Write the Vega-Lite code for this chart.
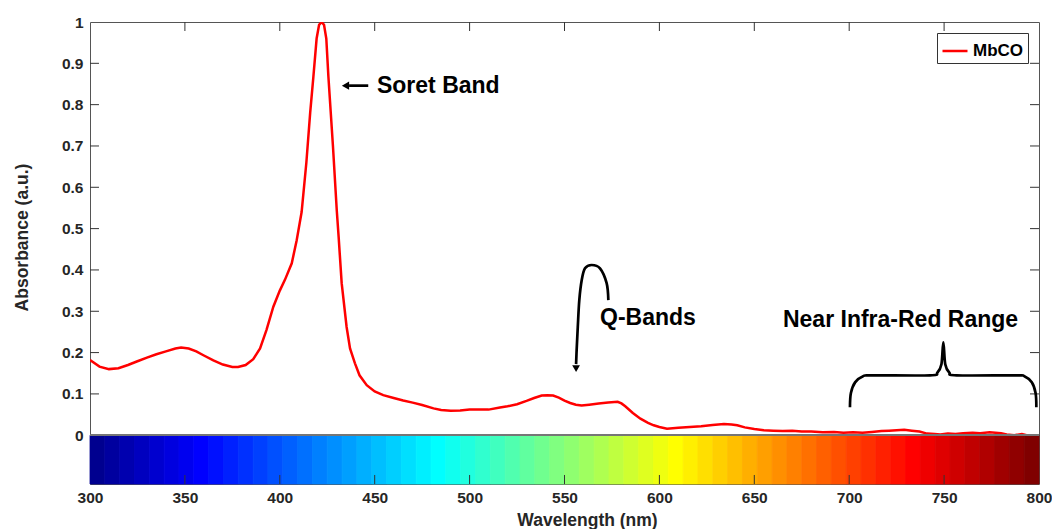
{
  "$schema": "https://vega.github.io/schema/vega-lite/v6.json",
  "width": 949,
  "height": 462,
  "autosize": {"type": "none"},
  "padding": {"left": 90, "top": 22, "right": 13, "bottom": 45},
  "background": "white",
  "config": {
    "font": "Liberation Sans",
    "view": {"stroke": "#555", "strokeWidth": 1},
    "axis": {
      "domain": false,
      "grid": false,
      "ticks": false,
      "zindex": 1,
      "labelFont": "Liberation Sans",
      "labelFontWeight": "bold",
      "labelFontSize": 15.5,
      "labelColor": "#262626",
      "titleFont": "Liberation Sans",
      "titleFontWeight": "bold",
      "titleFontSize": 17.5,
      "titleColor": "#262626"
    },
    "legend": {
      "orient": "top-right",
      "offset": 11,
      "strokeColor": "#333",
      "fillColor": "white",
      "padding": 4,
      "labelFont": "Liberation Sans",
      "labelFontWeight": "bold",
      "labelFontSize": 17,
      "labelColor": "black",
      "labelOffset": 4,
      "symbolType": "stroke",
      "symbolStrokeWidth": 2.5,
      "symbolSize": 625
    }
  },
  "datasets": {
    "spectrum": [
      {"nm": 300, "abs": 0.182}, {"nm": 305, "abs": 0.166}, {"nm": 310, "abs": 0.160}, {"nm": 315, "abs": 0.162},
      {"nm": 320, "abs": 0.170}, {"nm": 325, "abs": 0.179}, {"nm": 330, "abs": 0.188}, {"nm": 335, "abs": 0.196},
      {"nm": 340, "abs": 0.203}, {"nm": 345, "abs": 0.210}, {"nm": 348, "abs": 0.212}, {"nm": 352, "abs": 0.210},
      {"nm": 356, "abs": 0.203}, {"nm": 360, "abs": 0.193}, {"nm": 365, "abs": 0.181}, {"nm": 370, "abs": 0.171},
      {"nm": 375, "abs": 0.165}, {"nm": 378, "abs": 0.165}, {"nm": 382, "abs": 0.170}, {"nm": 386, "abs": 0.184},
      {"nm": 389.6, "abs": 0.210}, {"nm": 393, "abs": 0.255}, {"nm": 396.6, "abs": 0.311}, {"nm": 400, "abs": 0.350},
      {"nm": 402.7, "abs": 0.376}, {"nm": 406.3, "abs": 0.416}, {"nm": 408.9, "abs": 0.472}, {"nm": 411.5, "abs": 0.540},
      {"nm": 414, "abs": 0.660}, {"nm": 416, "abs": 0.780}, {"nm": 417.7, "abs": 0.868}, {"nm": 419.4, "abs": 0.960},
      {"nm": 420.7, "abs": 0.993}, {"nm": 422, "abs": 1.0}, {"nm": 423.3, "abs": 0.993}, {"nm": 424.5, "abs": 0.960},
      {"nm": 425.6, "abs": 0.868}, {"nm": 428, "abs": 0.700}, {"nm": 430, "abs": 0.545}, {"nm": 431, "abs": 0.480},
      {"nm": 432.6, "abs": 0.368}, {"nm": 435.2, "abs": 0.262}, {"nm": 437, "abs": 0.210}, {"nm": 439.6, "abs": 0.174},
      {"nm": 442, "abs": 0.145}, {"nm": 445.8, "abs": 0.121}, {"nm": 450, "abs": 0.106}, {"nm": 454.5, "abs": 0.097},
      {"nm": 460, "abs": 0.090}, {"nm": 465, "abs": 0.084}, {"nm": 470, "abs": 0.079}, {"nm": 475, "abs": 0.073},
      {"nm": 481, "abs": 0.065}, {"nm": 485, "abs": 0.061}, {"nm": 490, "abs": 0.059}, {"nm": 495, "abs": 0.060},
      {"nm": 500, "abs": 0.062}, {"nm": 505, "abs": 0.062}, {"nm": 510, "abs": 0.062}, {"nm": 516, "abs": 0.067},
      {"nm": 520, "abs": 0.070}, {"nm": 525, "abs": 0.075}, {"nm": 530, "abs": 0.083}, {"nm": 534, "abs": 0.090},
      {"nm": 538, "abs": 0.096}, {"nm": 541, "abs": 0.097}, {"nm": 544, "abs": 0.096}, {"nm": 547, "abs": 0.091},
      {"nm": 550, "abs": 0.084}, {"nm": 553, "abs": 0.078}, {"nm": 556, "abs": 0.074}, {"nm": 559, "abs": 0.072},
      {"nm": 563, "abs": 0.074}, {"nm": 568, "abs": 0.077}, {"nm": 573, "abs": 0.079}, {"nm": 578, "abs": 0.081},
      {"nm": 580, "abs": 0.077}, {"nm": 582, "abs": 0.070}, {"nm": 586, "abs": 0.054}, {"nm": 590, "abs": 0.040},
      {"nm": 594, "abs": 0.030}, {"nm": 597, "abs": 0.024}, {"nm": 600, "abs": 0.020}, {"nm": 604, "abs": 0.016},
      {"nm": 610, "abs": 0.018}, {"nm": 616, "abs": 0.020}, {"nm": 622, "abs": 0.022}, {"nm": 628, "abs": 0.025},
      {"nm": 634, "abs": 0.027}, {"nm": 638, "abs": 0.026}, {"nm": 641, "abs": 0.024}, {"nm": 645, "abs": 0.019},
      {"nm": 650, "abs": 0.015}, {"nm": 655, "abs": 0.012}, {"nm": 660, "abs": 0.011}, {"nm": 665, "abs": 0.010},
      {"nm": 670, "abs": 0.011}, {"nm": 675, "abs": 0.009}, {"nm": 680, "abs": 0.009}, {"nm": 686, "abs": 0.007},
      {"nm": 692, "abs": 0.008}, {"nm": 697, "abs": 0.006}, {"nm": 702, "abs": 0.007}, {"nm": 707, "abs": 0.006},
      {"nm": 712, "abs": 0.008}, {"nm": 717, "abs": 0.010}, {"nm": 721, "abs": 0.011}, {"nm": 725, "abs": 0.012},
      {"nm": 729, "abs": 0.013}, {"nm": 733, "abs": 0.011}, {"nm": 737, "abs": 0.009}, {"nm": 741, "abs": 0.004},
      {"nm": 745, "abs": 0.003}, {"nm": 748, "abs": 0.002}, {"nm": 752, "abs": 0.004}, {"nm": 756, "abs": 0.003},
      {"nm": 760, "abs": 0.005}, {"nm": 765, "abs": 0.006}, {"nm": 769, "abs": 0.005}, {"nm": 774, "abs": 0.007},
      {"nm": 777, "abs": 0.006}, {"nm": 780, "abs": 0.005}, {"nm": 783, "abs": 0.002}, {"nm": 787, "abs": 0.0},
      {"nm": 791, "abs": 0.003}, {"nm": 795, "abs": -0.002}, {"nm": 800, "abs": -0.003}
    ],
    "stripes": [
      {"lo": 300, "hi": 307.8125}, {"lo": 307.8125, "hi": 315.625}, {"lo": 315.625, "hi": 323.4375}, {"lo": 323.4375, "hi": 331.25},
      {"lo": 331.25, "hi": 339.0625}, {"lo": 339.0625, "hi": 346.875}, {"lo": 346.875, "hi": 354.6875}, {"lo": 354.6875, "hi": 362.5},
      {"lo": 362.5, "hi": 370.3125}, {"lo": 370.3125, "hi": 378.125}, {"lo": 378.125, "hi": 385.9375}, {"lo": 385.9375, "hi": 393.75},
      {"lo": 393.75, "hi": 401.5625}, {"lo": 401.5625, "hi": 409.375}, {"lo": 409.375, "hi": 417.1875}, {"lo": 417.1875, "hi": 425},
      {"lo": 425, "hi": 432.8125}, {"lo": 432.8125, "hi": 440.625}, {"lo": 440.625, "hi": 448.4375}, {"lo": 448.4375, "hi": 456.25},
      {"lo": 456.25, "hi": 464.0625}, {"lo": 464.0625, "hi": 471.875}, {"lo": 471.875, "hi": 479.6875}, {"lo": 479.6875, "hi": 487.5},
      {"lo": 487.5, "hi": 495.3125}, {"lo": 495.3125, "hi": 503.125}, {"lo": 503.125, "hi": 510.9375}, {"lo": 510.9375, "hi": 518.75},
      {"lo": 518.75, "hi": 526.5625}, {"lo": 526.5625, "hi": 534.375}, {"lo": 534.375, "hi": 542.1875}, {"lo": 542.1875, "hi": 550},
      {"lo": 550, "hi": 557.8125}, {"lo": 557.8125, "hi": 565.625}, {"lo": 565.625, "hi": 573.4375}, {"lo": 573.4375, "hi": 581.25},
      {"lo": 581.25, "hi": 589.0625}, {"lo": 589.0625, "hi": 596.875}, {"lo": 596.875, "hi": 604.6875}, {"lo": 604.6875, "hi": 612.5},
      {"lo": 612.5, "hi": 620.3125}, {"lo": 620.3125, "hi": 628.125}, {"lo": 628.125, "hi": 635.9375}, {"lo": 635.9375, "hi": 643.75},
      {"lo": 643.75, "hi": 651.5625}, {"lo": 651.5625, "hi": 659.375}, {"lo": 659.375, "hi": 667.1875}, {"lo": 667.1875, "hi": 675},
      {"lo": 675, "hi": 682.8125}, {"lo": 682.8125, "hi": 690.625}, {"lo": 690.625, "hi": 698.4375}, {"lo": 698.4375, "hi": 706.25},
      {"lo": 706.25, "hi": 714.0625}, {"lo": 714.0625, "hi": 721.875}, {"lo": 721.875, "hi": 729.6875}, {"lo": 729.6875, "hi": 737.5},
      {"lo": 737.5, "hi": 745.3125}, {"lo": 745.3125, "hi": 753.125}, {"lo": 753.125, "hi": 760.9375}, {"lo": 760.9375, "hi": 768.75},
      {"lo": 768.75, "hi": 776.5625}, {"lo": 776.5625, "hi": 784.375}, {"lo": 784.375, "hi": 792.1875}, {"lo": 792.1875, "hi": 800}
    ],
    "xTicks": [
      {"nm": 350}, {"nm": 400}, {"nm": 450}, {"nm": 500}, {"nm": 550},
      {"nm": 600}, {"nm": 650}, {"nm": 700}, {"nm": 750}
    ],
    "yTicks": [
      {"abs": 0.1}, {"abs": 0.2}, {"abs": 0.3}, {"abs": 0.4}, {"abs": 0.5},
      {"abs": 0.6}, {"abs": 0.7}, {"abs": 0.8}, {"abs": 0.9}
    ],
    "notes": [
      {"text": "Soret Band", "nm": 451.2, "abs": 0.846},
      {"text": "Q-Bands", "nm": 568.7, "abs": 0.283},
      {"text": "Near Infra-Red Range", "nm": 665.1, "abs": 0.279}
    ],
    "soretShaft": [{"nm": 436.5, "nm2": 446.6, "abs": 0.846}],
    "soretHead": [{"nm": 434.6, "abs": 0.846}],
    "qPath": [
      {"i": 0, "nm": 573.1, "abs": 0.327}, {"i": 1, "nm": 572.2, "abs": 0.368}, {"i": 2, "nm": 568.7, "abs": 0.404},
      {"i": 3, "nm": 564.3, "abs": 0.412}, {"i": 4, "nm": 560.8, "abs": 0.404}, {"i": 5, "nm": 559.1, "abs": 0.376},
      {"i": 6, "nm": 557.8, "abs": 0.327}, {"i": 7, "nm": 557.0, "abs": 0.262}, {"i": 8, "nm": 556.4, "abs": 0.206},
      {"i": 9, "nm": 556.1, "abs": 0.172}
    ],
    "qHead": [{"nm": 556.1, "abs": 0.161}],
    "brace": [
      {"i": 0, "nm": 700.4, "abs": 0.068}, {"i": 1, "nm": 700.9, "abs": 0.102}, {"i": 2, "nm": 703.1, "abs": 0.128},
      {"i": 3, "nm": 707.3, "abs": 0.143}, {"i": 4, "nm": 712.5, "abs": 0.145}, {"i": 5, "nm": 742.6, "abs": 0.145},
      {"i": 6, "nm": 746.5, "abs": 0.152}, {"i": 7, "nm": 748.6, "abs": 0.172}, {"i": 8, "nm": 749.6, "abs": 0.225},
      {"i": 9, "nm": 750.6, "abs": 0.172}, {"i": 10, "nm": 752.7, "abs": 0.152}, {"i": 11, "nm": 756.6, "abs": 0.145},
      {"i": 12, "nm": 787.6, "abs": 0.145}, {"i": 13, "nm": 792.3, "abs": 0.143}, {"i": 14, "nm": 796.2, "abs": 0.128},
      {"i": 15, "nm": 798.2, "abs": 0.102}, {"i": 16, "nm": 798.6, "abs": 0.068}
    ]
  },
  "resolve": {"scale": {"stroke": "independent"}},
  "layer": [
    {
      "data": {"name": "spectrum"},
      "mark": {"type": "line", "strokeWidth": 2.5, "clip": true},
      "encoding": {
        "x": {
          "field": "nm", "type": "quantitative",
          "scale": {"domain": [300, 800], "nice": false, "zero": false},
          "axis": {
            "orient": "bottom", "title": "Wavelength (nm)", "values": [300, 350, 400, 450, 500, 550, 600, 650, 700, 750, 800],
            "labelPadding": 6, "labelFlush": false, "titlePadding": 6, "titleX": 497
          }
        },
        "y": {
          "field": "abs", "type": "quantitative",
          "scale": {"domain": [-0.118, 1], "nice": false, "zero": false},
          "axis": {
            "orient": "left", "title": "Absorbance (a.u.)", "values": [0, 0.1, 0.2, 0.3, 0.4, 0.5, 0.6, 0.7, 0.8, 0.9, 1],
            "format": "~g", "labelPadding": 7, "labelFlush": false, "titlePadding": 30, "titleY": 215
          }
        },
        "stroke": {
          "datum": "MbCO", "type": "nominal",
          "scale": {"range": ["#ff0000"]},
          "legend": {"title": null}
        }
      }
    },
    {
      "data": {"name": "stripes"},
      "mark": {"type": "rect", "strokeWidth": 0.8},
      "encoding": {
        "x": {"field": "lo", "type": "quantitative"},
        "x2": {"field": "hi"},
        "y": {"datum": 0, "type": "quantitative"},
        "y2": {"datum": -0.118},
        "fill": {
          "field": "lo", "type": "quantitative",
          "scale": {
            "domain": [300, 354.6875, 479.6875, 604.6875, 729.6875, 792.1875],
            "range": ["#00008f", "#0000ff", "#00ffff", "#ffff00", "#ff0000", "#800000"],
            "interpolate": "rgb"
          },
          "legend": null
        },
        "stroke": {
          "field": "lo", "type": "quantitative",
          "scale": {
            "domain": [300, 354.6875, 479.6875, 604.6875, 729.6875, 792.1875],
            "range": ["#00008f", "#0000ff", "#00ffff", "#ffff00", "#ff0000", "#800000"],
            "interpolate": "rgb"
          },
          "legend": null
        }
      }
    },
    {
      "data": {"name": "spectrum"},
      "mark": {"type": "rule", "color": "#777", "strokeWidth": 1},
      "encoding": {"y": {"datum": 0, "type": "quantitative"}}
    },
    {
      "data": {"name": "xTicks"},
      "mark": {"type": "rule", "color": "#333", "strokeWidth": 1},
      "encoding": {
        "x": {"field": "nm", "type": "quantitative"},
        "y": {"datum": -0.118, "type": "quantitative"},
        "y2": {"datum": -0.0962}
      }
    },
    {
      "data": {"name": "xTicks"},
      "mark": {"type": "rule", "color": "#333", "strokeWidth": 1},
      "encoding": {
        "x": {"field": "nm", "type": "quantitative"},
        "y": {"datum": 1, "type": "quantitative"},
        "y2": {"datum": 0.9782}
      }
    },
    {
      "data": {"name": "yTicks"},
      "mark": {"type": "rule", "color": "#333", "strokeWidth": 1},
      "encoding": {
        "y": {"field": "abs", "type": "quantitative"},
        "x": {"datum": 300, "type": "quantitative"},
        "x2": {"datum": 304.74}
      }
    },
    {
      "data": {"name": "yTicks"},
      "mark": {"type": "rule", "color": "#333", "strokeWidth": 1},
      "encoding": {
        "y": {"field": "abs", "type": "quantitative"},
        "x": {"datum": 795.26, "type": "quantitative"},
        "x2": {"datum": 800}
      }
    },
    {
      "data": {"name": "notes"},
      "mark": {"type": "text", "align": "left", "baseline": "middle", "fontSize": 23, "fontWeight": "bold", "color": "black", "font": "Liberation Sans"},
      "encoding": {
        "x": {"field": "nm", "type": "quantitative"},
        "y": {"field": "abs", "type": "quantitative"},
        "text": {"field": "text"}
      }
    },
    {
      "data": {"name": "soretShaft"},
      "mark": {"type": "rule", "color": "black", "strokeWidth": 2.7},
      "encoding": {
        "x": {"field": "nm", "type": "quantitative"},
        "x2": {"field": "nm2"},
        "y": {"field": "abs", "type": "quantitative"}
      }
    },
    {
      "data": {"name": "soretHead"},
      "mark": {"type": "point", "shape": "triangle-left", "filled": true, "color": "black", "size": 70, "opacity": 1},
      "encoding": {
        "x": {"field": "nm", "type": "quantitative"},
        "y": {"field": "abs", "type": "quantitative"}
      }
    },
    {
      "data": {"name": "qPath"},
      "mark": {"type": "line", "color": "black", "strokeWidth": 2.7, "interpolate": "cardinal"},
      "encoding": {
        "x": {"field": "nm", "type": "quantitative"},
        "y": {"field": "abs", "type": "quantitative"},
        "order": {"field": "i", "type": "quantitative"}
      }
    },
    {
      "data": {"name": "qHead"},
      "mark": {"type": "point", "shape": "triangle-down", "filled": true, "color": "black", "size": 60, "opacity": 1},
      "encoding": {
        "x": {"field": "nm", "type": "quantitative"},
        "y": {"field": "abs", "type": "quantitative"}
      }
    },
    {
      "data": {"name": "brace"},
      "mark": {"type": "line", "color": "black", "strokeWidth": 2.7, "interpolate": "cardinal"},
      "encoding": {
        "x": {"field": "nm", "type": "quantitative"},
        "y": {"field": "abs", "type": "quantitative"},
        "order": {"field": "i", "type": "quantitative"}
      }
    }
  ]
}
